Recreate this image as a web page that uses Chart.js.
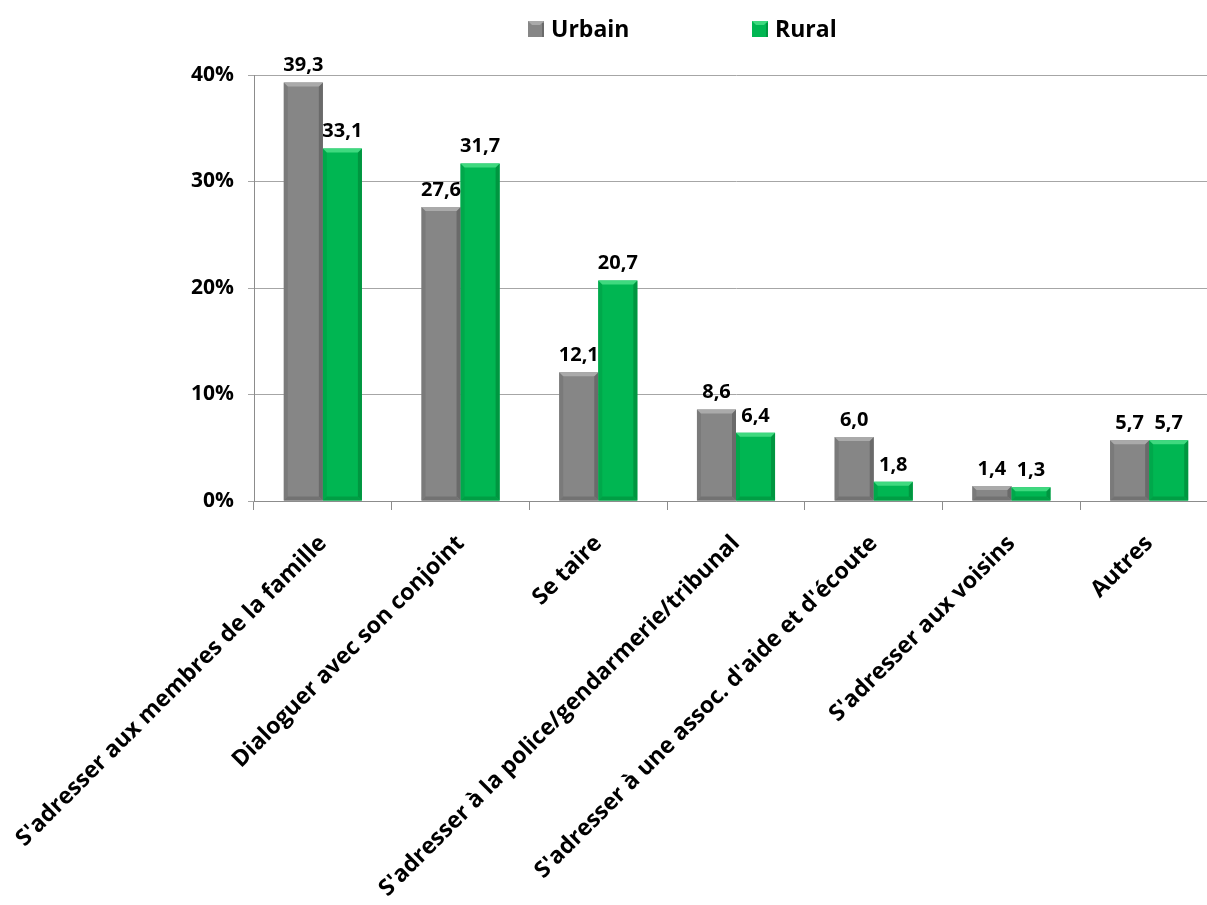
<!DOCTYPE html>
<html>
<head>
<meta charset="utf-8">
<script src="https://cdn.jsdelivr.net/npm/chart.js@4.4.1/dist/chart.umd.min.js"></script>
<style>
  html, body { margin: 0; padding: 0; background: #fff; overflow: hidden; }
  #wrap { width: 1207px; height: 905px; overflow: hidden; }
</style>
</head>
<body>
<div id="wrap"><canvas id="myChart" width="1218" height="905"></canvas></div>
<script>
const categories = [
  "S'adresser aux membres de la famille",
  "Dialoguer avec son conjoint",
  "Se taire",
  "S'adresser à la police/gendarmerie/tribunal",
  "S'adresser à une assoc. d'aide et d'écoute",
  "S'adresser aux voisins",
  "Autres"
]
const urbain = [39.3, 27.6, 12.1, 8.6, 6.0, 1.4, 5.7]
const rural = [33.1, 31.7, 20.7, 6.4, 1.8, 1.3, 5.7]
const yTicks = [0, 10, 20, 30, 40]

const FONT = "'Open Sans', 'DejaVu Sans', sans-serif"
const shades = {
  Urbain: {fill: '#868686', top: '#aaaaaa', left: '#7a7a7a', right: '#6a6a6a', bottom: '#727272'},
  Rural: {fill: '#00b652', top: '#3fd97f', left: '#00a84b', right: '#009640', bottom: '#009e44'}
}

// bevel look on each bar, drawn from the bar elements
const bevelPlugin = {
  id: 'bevel',
  afterDatasetsDraw(chart) {
    const ctx = chart.ctx
    chart.data.datasets.forEach((ds, i) => {
      const sh = shades[ds.label]
      chart.getDatasetMeta(i).data.forEach(bar => {
        const p = bar.getProps(['x', 'y', 'base', 'width'], true)
        const l = p.x - p.width / 2, r = p.x + p.width / 2, t = p.y, b = p.base
        const e = Math.min(4, (b - t) / 2)
        const poly = (pts, c) => {
          ctx.beginPath()
          ctx.moveTo(pts[0][0], pts[0][1])
          pts.slice(1).forEach(q => ctx.lineTo(q[0], q[1]))
          ctx.closePath()
          ctx.fillStyle = c
          ctx.fill()
        }
        ctx.save()
        poly([[l, t], [l + e, t + e], [l + e, b - e], [l, b]], sh.left)
        poly([[r, t], [r - e, t + e], [r - e, b - e], [r, b]], sh.right)
        poly([[l, b], [l + e, b - e], [r - e, b - e], [r, b]], sh.bottom)
        poly([[l, t], [r, t], [r - e, t + e], [l + e, t + e]], sh.top)
        ctx.restore()
      })
    })
  }
}

// value labels above bars
const valueLabels = {
  id: 'valueLabels',
  afterDatasetsDraw(chart) {
    const ctx = chart.ctx
    ctx.save()
    ctx.font = 'bold 20px ' + FONT
    ctx.fillStyle = '#000'
    ctx.textAlign = 'center'
    ctx.textBaseline = 'bottom'
    chart.data.datasets.forEach((ds, i) => {
      chart.getDatasetMeta(i).data.forEach((bar, j) => {
        ctx.fillText(ds.data[j].toFixed(1).replace('.', ','), bar.x, bar.y - 7)
      })
    })
    ctx.restore()
  }
}

// legend at the top
const topLegend = {
  id: 'topLegend',
  afterDraw(chart) {
    const ctx = chart.ctx
    const xs = [528, 752]
    ctx.save()
    ctx.font = 'bold 23px ' + FONT
    ctx.textBaseline = 'middle'
    chart.data.datasets.forEach((ds, i) => {
      const sh = shades[ds.label]
      const x = xs[i], y = 21, s = 16
      ctx.fillStyle = sh.fill
      ctx.fillRect(x, y, s, s)
      ctx.fillStyle = sh.top
      ctx.beginPath()
      ctx.moveTo(x, y); ctx.lineTo(x + s, y); ctx.lineTo(x + s - 4, y + 4); ctx.lineTo(x + 4, y + 4); ctx.closePath()
      ctx.fill()
      ctx.fillStyle = sh.right
      ctx.fillRect(x + s - 2, y + 2, 2, s - 2)
      ctx.fillStyle = '#000'
      ctx.fillText(ds.label, x + s + 7, y + s / 2 + 1)
    })
    ctx.restore()
  }
}

var ctx = document.getElementById('myChart').getContext('2d')
var myChart = new Chart(ctx, {
  type: 'bar',
  data: {
    labels: categories,
    datasets: [
      {label: 'Urbain', data: urbain, backgroundColor: shades.Urbain.fill, borderWidth: 0},
      {label: 'Rural', data: rural, backgroundColor: shades.Rural.fill, borderWidth: 0}
    ]
  },
  options: {
    responsive: false,
    animation: false,
    layout: {padding: {top: 75, right: 0, left: 0, bottom: 0}},
    datasets: {bar: {categoryPercentage: 0.567, barPercentage: 1}},
    plugins: {
      legend: {display: false},
      tooltip: {enabled: false}
    },
    scales: {
      x: {
        grid: {display: true, drawOnChartArea: false, offset: true, tickLength: 9, color: '#8c8c8c'},
        border: {color: '#8c8c8c'},
        ticks: {
          autoSkip: false, minRotation: 45, maxRotation: 45, padding: 20,
          color: '#000', font: {family: FONT, size: 23, weight: 'bold'}
        },
        afterFit(axis) {
          axis.height = 404
          axis.paddingLeft = 0
          axis.paddingRight = 0
        }
      },
      y: {
        min: 0, max: 40,
        afterBuildTicks(axis) { axis.ticks = yTicks.map(v => ({value: v})) },
        grid: {color: '#a6a6a6', tickLength: 6},
        border: {color: '#8c8c8c'},
        ticks: {
          padding: 14, color: '#000',
          font: {family: FONT, size: 21, weight: 'bold'},
          callback: v => v + '%'
        },
        afterFit(axis) {
          axis.width = 254
          axis.paddingTop = 0
          axis.paddingBottom = 0
        }
      }
    }
  },
  plugins: [bevelPlugin, valueLabels, topLegend]
})
</script>
</body>
</html>
